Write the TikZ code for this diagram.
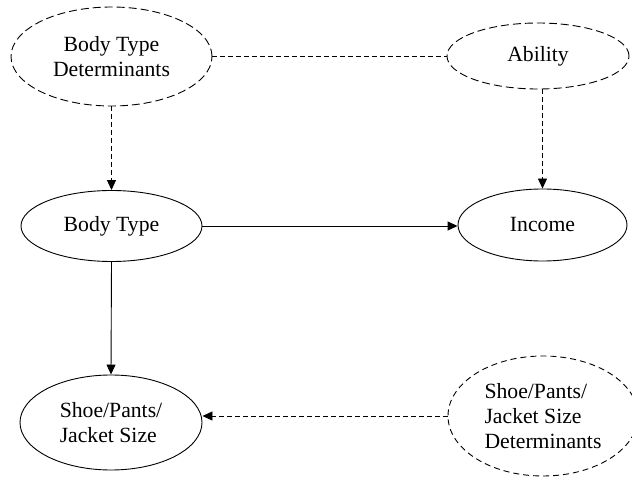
\documentclass[tikz,border=0pt]{standalone}
\usepackage{fontspec}
\setmainfont{Liberation Serif}
\usetikzlibrary{shapes.geometric,arrows.meta}
\tikzset{
  oval/.style={ellipse, draw, line width=0.9pt, inner sep=0pt, font=\fontsize{21.7}{25}\selectfont},
  latent/.style={oval, dash pattern=on 8pt off 4pt},
  conn/.style={line width=0.9pt},
  dconn/.style={conn, dash pattern=on 5pt off 3pt},
  tip/.style={-{Triangle[length=10pt,width=9pt]}}
}
\begin{document}
\begin{tikzpicture}[x=1pt,y=-1pt]
\useasboundingbox (0,0) rectangle (632,478);
\clip (0,0) rectangle (632,478);
\node[latent, minimum width=201pt, minimum height=99pt, align=center] (btd) at (111.5,56.5) {Body Type\\Determinants};
\node[latent, minimum width=182pt, minimum height=66pt] (abil) at (538,56) {Ability};
\node[oval, minimum width=181pt, minimum height=71pt] (bt) at (111.5,226) {Body Type};
\node[oval, minimum width=169pt, minimum height=72pt] (inc) at (542.5,225) {Income};
\node[oval, minimum width=182pt, minimum height=95pt, align=left] (spj) at (111,422.5) {Shoe/Pants/\\Jacket Size};
\node[latent, dash pattern=on 6pt off 4pt, minimum width=190pt, minimum height=120pt, align=left] (spjd) at (543,416) {Shoe/Pants/\\Jacket Size\\Determinants};
\draw[dconn] (btd.east) -- (btd.east -| abil.west);
\draw[dconn, tip] (btd.south) -- (bt.north);
\draw[dconn, tip] (abil.south -| inc.north) -- (inc.north);
\draw[conn, tip] (bt.east) -- (bt.east -| inc.west);
\draw[conn, tip] (bt.south) -- (spj.north);
\draw[dconn, tip] (spjd.west) -- (spjd.west -| spj.east);
\end{tikzpicture}
\end{document}
